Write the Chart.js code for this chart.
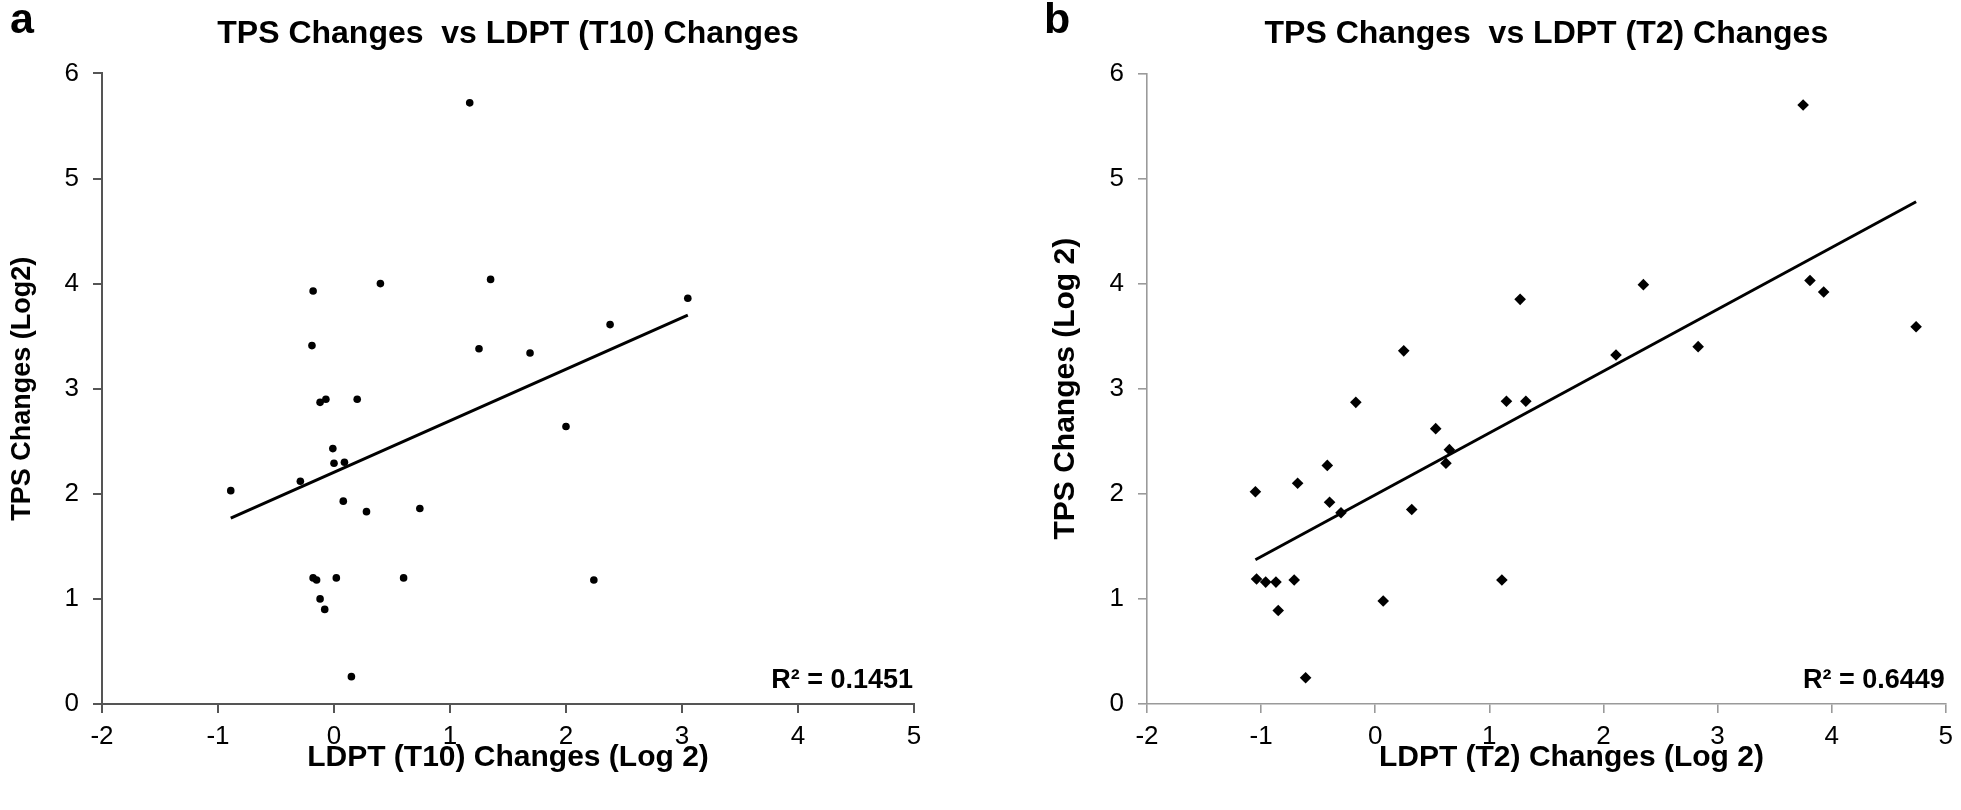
<!DOCTYPE html>
<html><head><meta charset="utf-8">
<script src="https://cdn.jsdelivr.net/npm/chart.js@4/dist/chart.umd.min.js"></script>
<style>
html,body{margin:0;padding:0;background:#fff;width:1961px;height:810px;overflow:hidden;position:relative}
canvas{position:absolute;top:0}
</style></head>
<body>
<canvas id="ca" width="980" height="810" style="left:0;width:980px;height:810px"></canvas>
<canvas id="cb" width="921" height="810" style="left:1040px;width:921px;height:810px"></canvas>
<script>
// ---- Data ----
const xTickValues = [-2, -1, 0, 1, 2, 3, 4, 5];
const yTickValues = [0, 1, 2, 3, 4, 5, 6];

const panelATitle = 'TPS Changes  vs LDPT (T10) Changes';
const panelAXLabel = 'LDPT (T10) Changes (Log 2)';
const panelAYLabel = 'TPS Changes (Log2)';
const panelAR2 = 'R\u00B2 = 0.1451';
const ldptT10 = [1.17, -0.18, 0.40, 1.35, -0.19, 1.25, 3.05, 2.38, 1.69, -0.12, -0.07, 0.20, -0.01, 0.00, 0.09,
                 -0.29, -0.89, 0.08, 0.28, 0.74, -0.18, -0.15, 0.02, 0.60, -0.12, -0.08, 0.15, 2.00, 2.24];
const tpsA    = [5.72, 3.93, 4.00, 4.04, 3.41, 3.38, 3.86, 3.61, 3.34, 2.87, 2.90, 2.90, 2.43, 2.29, 2.30,
                 2.12, 2.03, 1.93, 1.83, 1.86, 1.20, 1.18, 1.20, 1.20, 1.00, 0.90, 0.26, 2.64, 1.18];

const panelBTitle = 'TPS Changes  vs LDPT (T2) Changes';
const panelBXLabel = 'LDPT (T2) Changes (Log 2)';
const panelBYLabel = 'TPS Changes (Log 2)';
const panelBR2 = 'R\u00B2 = 0.6449';
const ldptT2 = [-1.05, -0.17, -0.42, -0.68, -0.40, -0.30, 0.32, 0.53, 0.65, 0.62, -1.04, -0.96, -0.87, -0.71, -0.85,
                0.07, -0.61, 0.25, 3.75, 1.27, 2.35, 3.81, 3.93, 4.74, 2.11, 2.83, 1.15, 1.32, 1.11];
const tpsB   = [2.02, 2.87, 2.27, 2.10, 1.92, 1.82, 1.85, 2.62, 2.42, 2.29, 1.19, 1.16, 1.16, 1.18, 0.89,
                0.98, 0.25, 3.36, 5.70, 3.85, 3.99, 4.03, 3.92, 3.59, 3.32, 3.40, 2.88, 2.88, 1.18];

// ---- helpers ----
const FONT = '"Liberation Sans", Arial, Helvetica, sans-serif';

function linearFit(xs, ys) {
  const n = xs.length;
  let sx = 0, sy = 0, sxx = 0, sxy = 0;
  for (let i = 0; i < n; i++) { sx += xs[i]; sy += ys[i]; sxx += xs[i] * xs[i]; sxy += xs[i] * ys[i]; }
  const slope = (n * sxy - sx * sy) / (n * sxx - sx * sx);
  const icpt = (sy - slope * sx) / n;
  const x0 = Math.min(...xs), x1 = Math.max(...xs);
  return [{x: x0, y: icpt + slope * x0}, {x: x1, y: icpt + slope * x1}];
}

const annotPlugin = {
  id: 'annot',
  afterDraw(chart, args, o) {
    const ctx = chart.ctx, ca = chart.chartArea;
    ctx.save();
    ctx.fillStyle = '#000';
    ctx.textBaseline = 'alphabetic';
    ctx.font = 'bold 43px ' + FONT;
    ctx.textAlign = 'left';
    ctx.fillText(o.letter, o.lx, o.ly);
    ctx.font = 'bold 27px ' + FONT;
    ctx.textAlign = 'right';
    ctx.fillText(o.r2, ca.right - 1, ca.bottom - 16);
    // x-axis title
    ctx.font = 'bold 30px ' + FONT;
    ctx.textAlign = 'center';
    ctx.textBaseline = 'middle';
    ctx.fillText(o.xLabel, (ca.left + ca.right) / 2 + o.xLabelShift, o.xLabelY);
    ctx.restore();
  }
};

function makeChart(id, cfg) {
  const pts = cfg.xs.map((x, i) => ({x: x, y: cfg.ys[i]}));
  const trend = linearFit(cfg.xs, cfg.ys);
  return new Chart(document.getElementById(id), {
    type: 'scatter',
    data: {
      datasets: [
        {data: trend, showLine: true, pointRadius: 0, borderColor: '#000', borderWidth: 3, fill: false, order: 2},
        {data: pts, pointStyle: cfg.pointStyle, pointRadius: cfg.pointRadius, backgroundColor: '#000',
         borderColor: '#000', borderWidth: 0, order: 1}
      ]
    },
    plugins: [annotPlugin],
    options: {
      responsive: false, animation: false, devicePixelRatio: 1,
      layout: {padding: {left: 0, right: cfg.padRight, top: 0, bottom: 0}},
      plugins: {
        legend: {display: false}, tooltip: {enabled: false},
        title: {display: true, text: cfg.title, fullSize: false, color: '#000',
                font: {family: FONT, size: 32, weight: 'bold'}, padding: {top: 15, bottom: 20}},
        annot: {letter: cfg.letter, lx: cfg.lx, ly: 33, r2: cfg.r2,
                xLabel: cfg.xLabel, xLabelShift: cfg.xLabelShift, xLabelY: 758}
      },
      scales: {
        x: {
          type: 'linear', min: -2, max: 5,
          afterBuildTicks: s => { s.ticks = xTickValues.map(v => ({value: v})); },
          afterFit: s => { s.height = 106; },
          border: {display: true, color: cfg.axisColor, width: cfg.axisWidth},
          grid: {display: true, drawOnChartArea: false, drawTicks: true, tickLength: 9, color: cfg.axisColor, lineWidth: cfg.axisWidth},
          ticks: {color: '#000', font: {family: FONT, size: 26}, padding: 8},
          title: {display: false}
        },
        y: {
          type: 'linear', min: 0, max: 6,
          afterBuildTicks: s => { s.ticks = yTickValues.map(v => ({value: v})); },
          afterFit: s => { s.width = cfg.yWidth; },
          border: {display: true, color: cfg.axisColor, width: cfg.axisWidth},
          grid: {display: true, drawOnChartArea: false, drawTicks: true, tickLength: 9, color: cfg.axisColor, lineWidth: cfg.axisWidth},
          ticks: {color: '#000', font: {family: FONT, size: 26}, padding: 14},
          title: {display: true, text: cfg.yLabel, color: '#000', font: {family: FONT, size: cfg.yLabelSize, weight: 'bold'},
                  padding: {top: cfg.yTitlePad, bottom: 0}}
        }
      }
    }
  });
}

makeChart('ca', {
  xs: ldptT10, ys: tpsA, title: panelATitle, xLabel: panelAXLabel, yLabel: panelAYLabel, r2: panelAR2,
  letter: 'a', lx: 10, pointStyle: 'circle', pointRadius: 3.8, xLabelShift: 0, yLabelSize: 27,
  axisColor: '#555555', axisWidth: 2, padRight: 66, yWidth: 102, yTitlePad: 6
});
makeChart('cb', {
  xs: ldptT2, ys: tpsB, title: panelBTitle, xLabel: panelBXLabel, yLabel: panelBYLabel, r2: panelBR2,
  letter: 'b', lx: 4, pointStyle: 'rectRot', pointRadius: 5.8, xLabelShift: 25, yLabelSize: 30,
  axisColor: '#9a9a9a', axisWidth: 1.6, padRight: 8, yWidth: 107, yTitlePad: 8
});
</script>
</body></html>
